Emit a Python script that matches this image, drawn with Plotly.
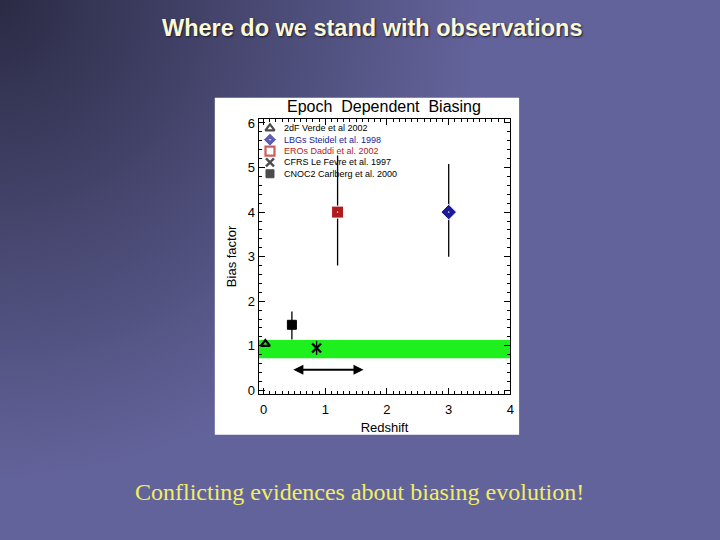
import base64
import plotly.graph_objects as go

# ---------------- data ----------------
surveys = ["2dF Verde et al 2002", "LBGs Steidel et al. 1998", "EROs Daddi et al. 2002",
           "CFRS Le Fevre et al. 1997", "CNOC2 Carlberg et al. 2000"]
redshift = [0.03, 3.0, 1.2, 0.86, 0.46]
bias = [1.04, 4.0, 4.0, 0.95, 1.47]
err_plus = [0.0, 1.08, 1.27, 0.16, 0.30]
err_minus = [0.0, 1.0, 1.2, 0.16, 0.33]
symbols = ["triangle-up-open", "diamond-dot", "square-dot", "x-thin-open", "square"]
legend_symbols = ["triangle-up-open", "diamond-dot", "square-open", "x-thin-open", "square"]
colors = ["black", "#1a1a9a", "#b01c1c", "black", "black"]
line_colors = ["black", "white", "white", "black", "black"]
sizes = [8, 12, 12, 9, 9]
label_colors = ["black", "#1a1a9a", "#b01c1c", "black", "black"]

band_low, band_high = 0.72, 1.13          # local (z~0) bias band
arrow_z = [0.46, 1.62]                    # redshift range arrow
arrow_b = 0.46

x_ticks = [0, 1, 2, 3, 4]
y_ticks = [0, 1, 2, 3, 4, 5, 6]

W, H = 720, 540
fig = go.Figure()

# background gradient
svg = ('<svg xmlns="http://www.w3.org/2000/svg" width="720" height="540" preserveAspectRatio="none">'
       '<defs><radialGradient id="g" gradientUnits="userSpaceOnUse" cx="0" cy="0" r="480">'
       '<stop offset="0" stop-color="#2a2a44"/><stop offset="1" stop-color="#63639b"/>'
       '</radialGradient></defs><rect x="-20" y="-20" width="760" height="580" fill="url(#g)"/></svg>')
uri = "data:image/svg+xml;base64," + base64.b64encode(svg.encode()).decode()
fig.add_layout_image(source=uri, xref="paper", yref="paper", x=-0.01, y=1.01, sizex=1.02,
                     sizey=1.02, sizing="stretch", xanchor="left", yanchor="top", layer="below")

# white plot panel
fig.add_shape(type="rect", xref="paper", yref="paper", x0=216 / W, x1=522 / W,
              y0=1 - 437.5 / H, y1=1 - 96 / H, fillcolor="white", line_width=0, layer="below")
# green band
fig.add_shape(type="rect", xref="x domain", yref="y", x0=0, x1=1, y0=band_low, y1=band_high,
              fillcolor="#1ef01e", line_width=0, layer="below")

# data points
for i in range(len(surveys)):
    fig.add_trace(go.Scatter(
        x=[redshift[i]], y=[bias[i]], mode="markers",
        marker=dict(symbol=symbols[i], color=colors[i], size=sizes[i],
                    line=dict(color=line_colors[i], width=2.2 if i in (0, 3) else 1)),
        error_y=dict(type="data", symmetric=False, array=[err_plus[i]],
                     arrayminus=[err_minus[i]], color="black", thickness=1.3, width=0,
                     visible=err_plus[i] > 0),
        showlegend=False, hoverinfo="skip"))

# double arrow
fig.add_annotation(x=arrow_z[1], y=arrow_b, ax=arrow_z[0], ay=arrow_b, xref="x", yref="y",
                   axref="x", ayref="y", text="", showarrow=True, arrowhead=2,
                   arrowside="end+start", arrowsize=1, arrowwidth=2, arrowcolor="black")

# custom compact legend (separate full-page axis in paper units)
leg_x, leg_y0, leg_dy = 271.5, 127.0, 11.5
fig.add_trace(go.Scatter(
    x=[leg_x / W] * len(surveys),
    y=[1 - (leg_y0 + k * leg_dy) / H for k in range(len(surveys))],
    xaxis="x2", yaxis="y2", mode="markers",
    marker=dict(symbol=legend_symbols, color=colors, size=[8, 10, 9, 8, 8],
                line=dict(color=["black", "white", "#b01c1c", "black", "black"],
                          width=[2.2, 1, 2.2, 2.4, 1])),
    showlegend=False, hoverinfo="skip"))
for k, name in enumerate(surveys):
    fig.add_annotation(x=(leg_x + 12) / W, y=1 - (leg_y0 + k * leg_dy) / H, xref="paper",
                       yref="paper", text=name, showarrow=False, xanchor="left",
                       yanchor="middle", font=dict(size=9, color=label_colors[k],
                                                   family="Liberation Sans"))

# texts
fig.add_annotation(x=374 / W, y=1 - 25 / H, xref="paper", yref="paper", yanchor="middle",
                   text="<b>Where do we stand with observations</b>", showarrow=False,
                   font=dict(size=23.5, color="#fbf8d8", family="Liberation Sans",
                             shadow="1px 1px 2px #1a1a2a"))
fig.add_annotation(x=362 / W, y=1 - 495 / H, xref="paper", yref="paper", yanchor="middle",
                   text="Conflicting evidences about biasing evolution!", showarrow=False,
                   font=dict(size=24, color="#f2ee62", family="Liberation Serif"))
fig.add_annotation(x=386 / W, y=1 - 105 / H, xref="paper", yref="paper", yanchor="middle",
                   text="Epoch  Dependent  Biasing", showarrow=False,
                   font=dict(size=16, color="black", family="Liberation Sans"))

tickfont = dict(size=13, color="black", family="Liberation Sans")
fig.update_layout(
    width=W, height=H, margin=dict(l=0, r=0, t=0, b=0),
    paper_bgcolor="#63639b", plot_bgcolor="rgba(0,0,0,0)",
    xaxis=dict(domain=[260 / W, 513.3 / W], range=[-0.08, 4.0], tickvals=x_ticks,
               ticks="inside", ticklen=6, tickwidth=1, tickcolor="black",
               showline=True, linecolor="black", linewidth=1, mirror="allticks",
               showgrid=False, zeroline=False, tickfont=tickfont, ticklabelstandoff=4,
               minor=dict(dtick=0.1, ticks="inside", ticklen=3, tickcolor="black"),
               title=dict(text="Redshift", font=dict(size=13, color="black",
                                                     family="Liberation Sans"), standoff=6)),
    yaxis=dict(domain=[1 - 396 / H, 1 - 117.5 / H], range=[-0.08, 6.09], tickvals=y_ticks,
               ticks="inside", ticklen=6, tickwidth=1, tickcolor="black",
               showline=True, linecolor="black", linewidth=1, mirror="allticks",
               showgrid=False, zeroline=False, tickfont=tickfont,
               minor=dict(dtick=0.2, ticks="inside", ticklen=3, tickcolor="black"),
               title=dict(text="Bias factor", font=dict(size=13, color="black",
                                                        family="Liberation Sans"), standoff=8)),
    xaxis2=dict(domain=[0, 1], range=[0, 1], visible=False, anchor="y2"),
    yaxis2=dict(domain=[0, 1], range=[0, 1], visible=False, anchor="x2"),
)
fig.write_html("out.html", config={"displayModeBar": False},
               post_script="document.body.style.margin='0';")
